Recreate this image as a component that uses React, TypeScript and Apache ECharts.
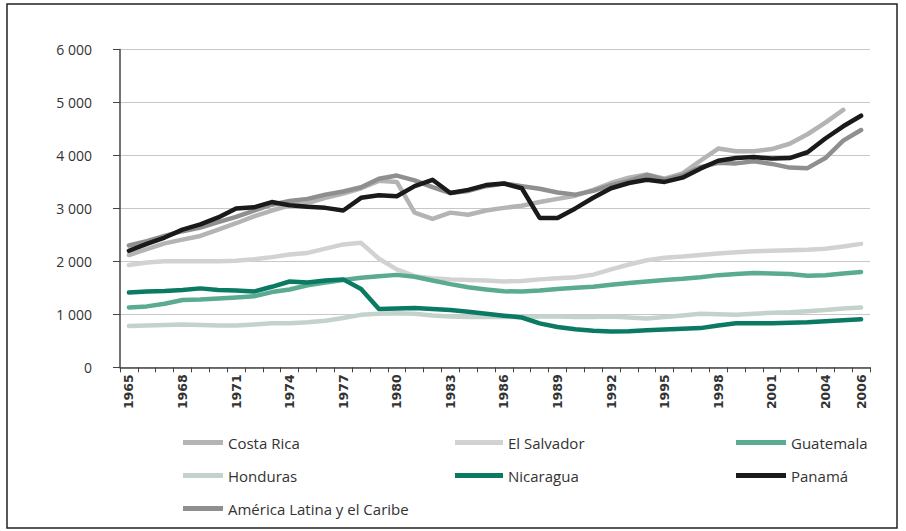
import React, { useEffect, useRef } from "react";
import * as echarts from "echarts";

const years: string[] = [];
for (let y = 1965; y <= 2006; y++) years.push(String(y));

const yTickLabels = ["0", "1 000", "2 000", "3 000", "4 000", "5 000", "6 000"];

const costaRica = [
  2120, 2230, 2340, 2410, 2480, 2600, 2720, 2850, 2960, 3060,
  3100, 3200, 3280, 3380, 3520, 3500, 2920, 2800, 2920, 2880,
  2960, 3010, 3050, 3120, 3180, 3240, 3350, 3480, 3580, 3640,
  3560, 3660, 3900, 4130, 4080, 4080, 4120, 4220, 4400, 4620,
  4860, null,
];
const elSalvador = [
  1930, 1980, 2000, 2000, 2000, 2000, 2010, 2040, 2080, 2130,
  2160, 2240, 2320, 2350, 2050, 1850, 1720, 1680, 1660, 1650,
  1640, 1620, 1630, 1660, 1680, 1700, 1750, 1850, 1940, 2020,
  2070, 2090, 2120, 2150, 2170, 2190, 2200, 2210, 2220, 2240,
  2280, 2330,
];
const guatemala = [
  1130, 1150, 1200, 1270, 1280, 1300, 1320, 1340, 1420, 1470,
  1550, 1600, 1650, 1690, 1720, 1745, 1710, 1640, 1570, 1510,
  1470, 1435, 1430, 1450, 1480, 1500, 1520, 1560, 1590, 1620,
  1650, 1670, 1700, 1740, 1760, 1780, 1770, 1760, 1730, 1740,
  1770, 1800,
];
const honduras = [
  780, 790, 800, 810, 800, 790, 790, 810, 830, 830,
  850, 880, 930, 990, 1010, 1020, 1010, 980, 960, 950,
  950, 950, 950, 960, 960, 950, 950, 960, 940, 920,
  950, 980, 1010, 1000, 990, 1010, 1030, 1040, 1060, 1080,
  1110, 1130,
];
const nicaragua = [
  1410, 1430, 1440, 1460, 1490, 1460, 1450, 1430, 1520, 1620,
  1600, 1640, 1660, 1480, 1100, 1110, 1120, 1100, 1080, 1050,
  1010, 975, 940, 830, 760, 720, 690, 675, 680, 700,
  715, 730, 740, 790, 830, 830, 830, 840, 850, 870,
  890, 905,
];
const panama = [
  2200, 2330, 2450, 2600, 2700, 2830, 3000, 3020, 3120, 3060,
  3030, 3010, 2960, 3200, 3250, 3230, 3420, 3540, 3290, 3350,
  3440, 3470, 3380, 2820, 2820, 3000, 3200, 3380, 3480, 3540,
  3500, 3580, 3750, 3900, 3950, 3970, 3940, 3950, 4060, 4320,
  4550, 4750,
];
const americaLatina = [
  2300, 2380, 2480, 2570, 2640, 2740, 2840, 2960, 3070, 3140,
  3180, 3260, 3320, 3400, 3560, 3620, 3530, 3400, 3290, 3330,
  3420, 3470, 3420, 3370, 3300, 3260, 3330, 3440, 3520, 3630,
  3540, 3620, 3780, 3860, 3850, 3890, 3840, 3770, 3760, 3950,
  4280, 4480,
];

const seriesNames = [
  "Costa Rica",
  "El Salvador",
  "Guatemala",
  "Honduras",
  "Nicaragua",
  "Panamá",
  "América Latina y el Caribe",
];

export default function App() {
  const ref = useRef<HTMLDivElement>(null);

  useEffect(() => {
    if (!ref.current) return;
    const chart = echarts.init(ref.current, null, { renderer: "svg" });

    const mk = (name: string, data: (number | null)[], color: string, z: number) => ({
      name,
      type: "line",
      data,
      symbol: "none",
      smooth: false,
      z,
      lineStyle: { width: 4.5, color, cap: "round", join: "round" },
      itemStyle: { color },
    });

    const font = "'Open Sans', 'Noto Sans', sans-serif";
    const legendBase = {
      orient: "vertical",
      icon: "rect",
      itemWidth: 40,
      itemHeight: 5,
      itemGap: 14,
      textStyle: { fontFamily: font, fontSize: 15, color: "#333", lineHeight: 19 },
      selectedMode: false,
    };

    chart.setOption({
      animation: false,
      backgroundColor: "#ffffff",
      grid: { left: 120, right: 36, top: 49.5, bottom: 163.7, containLabel: false },
      xAxis: {
        type: "category",
        data: years,
        boundaryGap: true,
        axisLine: { lineStyle: { color: "#444", width: 1.5 } },
        axisTick: { show: true, interval: 0, length: 5, lineStyle: { color: "#444" } },
        axisLabel: {
          rotate: 90,
          interval: (i: number) => i % 3 === 0 || i === years.length - 1,
          fontFamily: "'DejaVu Sans', sans-serif",
          fontSize: 12.5,
          fontWeight: "bold",
          color: "#333",
          margin: 7,
        },
        splitLine: { show: false },
      },
      yAxis: {
        type: "value",
        min: 0,
        max: 6000,
        interval: 1000,
        axisLine: { show: true, lineStyle: { color: "#444", width: 1.5 } },
        axisTick: { show: true, length: 7, lineStyle: { color: "#444" } },
        axisLabel: {
          formatter: (v: number) => yTickLabels[Math.round(v / 1000)],
          fontFamily: font,
          fontSize: 14,
          color: "#333",
          margin: 28,
        },
        splitLine: { lineStyle: { color: "#c8c8c8", width: 1 } },
      },
      legend: [
        { ...legendBase, left: 178, top: 428, data: [seriesNames[0], seriesNames[3], seriesNames[6]] },
        { ...legendBase, left: 450, top: 428, itemWidth: 48, data: [seriesNames[1], seriesNames[4]] },
        { ...legendBase, left: 731, top: 428, itemWidth: 50, data: [seriesNames[2], seriesNames[5]] },
      ],
      graphic: [
        {
          type: "rect",
          shape: { x: 7, y: 4, width: 890, height: 524 },
          style: { fill: "none", stroke: "#222", lineWidth: 1.5 },
          silent: true,
        },
      ],
      series: [
        mk(seriesNames[3], honduras, "#c3d3cc", 2),
        mk(seriesNames[1], elSalvador, "#d2d2d2", 2),
        mk(seriesNames[2], guatemala, "#5aab92", 3),
        mk(seriesNames[4], nicaragua, "#0b7a63", 4),
        mk(seriesNames[0], costaRica, "#b4b4b4", 3),
        mk(seriesNames[6], americaLatina, "#8f8f8f", 4),
        mk(seriesNames[5], panama, "#1a1a1a", 5),
      ],
    });

    return () => chart.dispose();
  }, []);

  return (
    <div
      ref={ref}
      style={{ position: "fixed", left: 0, top: 0, width: 906, height: 531, background: "#fff" }}
    />
  );
}
